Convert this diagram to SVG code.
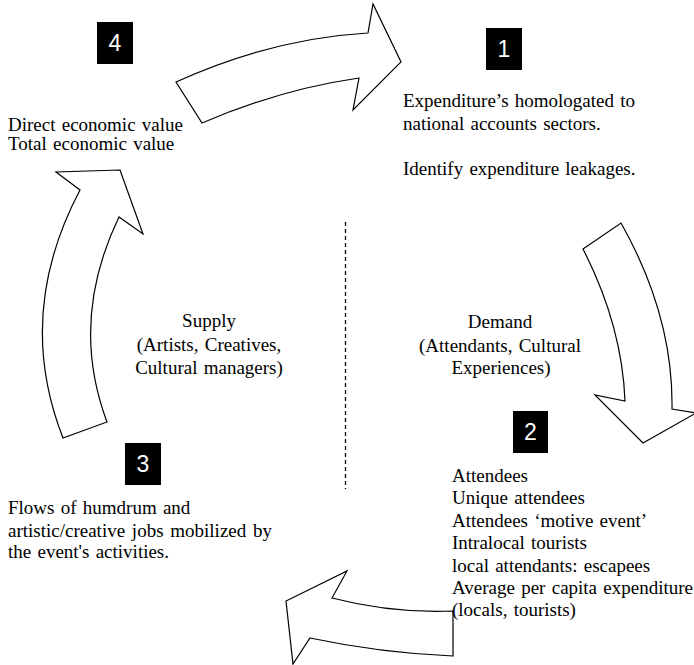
<svg xmlns="http://www.w3.org/2000/svg" width="694" height="665" viewBox="0 0 694 665">
  <style>
    .arrow { fill: #ffffff; stroke: #000000; stroke-width: 1.2; stroke-linejoin: miter; }
    .badge { fill: #000000; }
    .num { font-family: "Liberation Sans", Arial, sans-serif; font-size: 23px; fill: #ffffff; text-anchor: middle; }
    .txt { font-family: "Liberation Serif", "Times New Roman", serif; font-size: 19px; fill: #000000; word-spacing: 1.5px; }
    .mid { text-anchor: middle; }
    .divider { stroke: #000000; stroke-width: 1.3; stroke-dasharray: 4 3; fill: none; }
  </style>

  <!-- curved block arrows forming the cycle -->
  <g id="connectors">
    <!-- 4 -> 1 (top, pointing right) -->
    <path class="arrow" d="M176,82 Q272,38.5 368,33 L373,4 L401,62 L353,110 L359,78 Q279.5,89.5 202,123 Z"/>
    <!-- 1 -> 2 (right, pointing down) -->
    <path class="arrow" d="M583,249 L621,223 Q673.5,316 672,409 L696,413 L643,443 L595,395 L625,401 Q622,325 583,249 Z"/>
    <!-- 2 -> 3 (bottom, pointing left) -->
    <path class="arrow" d="M453,611 Q391.5,613.5 332,598 L347,571 L286,601 L293,664 L310,638 Q380.5,653 453,656 Z"/>
    <!-- 3 -> 4 (left, pointing up) -->
    <path class="arrow" d="M107,422 Q69,320.5 119,217 L143,234 L120,170 L56,172 L80,190 Q14.5,314 63,438 Z"/>
    <!-- supply / demand divider -->
    <line class="divider" x1="345.5" y1="222" x2="345.5" y2="489"/>
  </g>

  <!-- step 1 -->
  <g id="step1">
    <rect class="badge" x="486" y="28" width="36" height="42"/>
    <text class="num" x="504" y="57">1</text>
    <text class="txt" x="403" y="107">Expenditure’s homologated to</text>
    <text class="txt" x="403" y="130">national accounts sectors.</text>
    <text class="txt" x="403" y="175">Identify expenditure leakages.</text>
  </g>

  <!-- step 2 -->
  <g id="step2">
    <rect class="badge" x="513" y="411" width="35" height="42"/>
    <text class="num" x="530.5" y="440">2</text>
    <text class="txt" x="452" y="482">Attendees</text>
    <text class="txt" x="452" y="504">Unique attendees</text>
    <text class="txt" x="452" y="527">Attendees ‘motive event’</text>
    <text class="txt" x="452" y="549">Intralocal tourists</text>
    <text class="txt" x="452" y="572">local attendants: escapees</text>
    <text class="txt" x="452" y="594">Average per capita expenditure</text>
    <text class="txt" x="452" y="616">(locals, tourists)</text>
  </g>

  <!-- step 3 -->
  <g id="step3">
    <rect class="badge" x="125" y="443" width="36" height="42"/>
    <text class="num" x="143" y="472">3</text>
    <text class="txt" x="8" y="514">Flows of humdrum and</text>
    <text class="txt" x="8" y="537" style="word-spacing:2px">artistic/creative jobs mobilized by</text>
    <text class="txt" x="8" y="558">the event's activities.</text>
  </g>

  <!-- step 4 -->
  <g id="step4">
    <rect class="badge" x="97" y="22" width="36" height="42"/>
    <text class="num" x="115" y="51">4</text>
    <text class="txt" x="8" y="131">Direct economic value</text>
    <text class="txt" x="8" y="150">Total economic value</text>
  </g>

  <!-- supply side label -->
  <g id="supply">
    <text class="txt mid" x="209" y="327">Supply</text>
    <text class="txt mid" x="209" y="351">(Artists, Creatives,</text>
    <text class="txt mid" x="209" y="374">Cultural managers)</text>
  </g>

  <!-- demand side label -->
  <g id="demand">
    <text class="txt mid" x="500" y="328">Demand</text>
    <text class="txt mid" x="500" y="352">(Attendants, Cultural</text>
    <text class="txt mid" x="501" y="374">Experiences)</text>
  </g>
</svg>
